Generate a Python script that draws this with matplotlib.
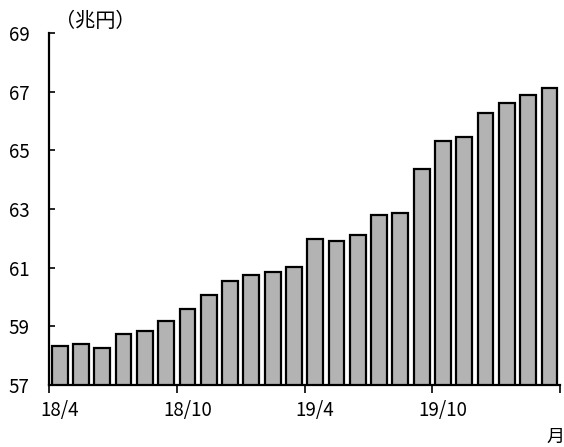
import matplotlib
matplotlib.use("Agg")
import matplotlib.pyplot as plt
import numpy as np

plt.rcParams['font.family'] = ['Noto Sans CJK JP', 'DejaVu Sans']

# 月末残高（兆円）, 2018年4月～2020年3月
months = ['18/4', '18/5', '18/6', '18/7', '18/8', '18/9', '18/10', '18/11', '18/12',
          '19/1', '19/2', '19/3', '19/4', '19/5', '19/6', '19/7', '19/8', '19/9',
          '19/10', '19/11', '19/12', '20/1', '20/2', '20/3']
values = [58.31, 58.39, 58.25, 58.73, 58.85, 59.19, 59.60, 60.08, 60.55,
          60.75, 60.85, 61.03, 61.98, 61.91, 62.11, 62.80, 62.86, 64.36,
          65.32, 65.45, 66.27, 66.60, 66.89, 67.14]
shown_labels = ['18/4', '18/10', '19/4', '19/10']
y_ticks = [57, 59, 61, 63, 65, 67, 69]

fig = plt.figure(figsize=(5.64, 4.47), dpi=100)
ax = fig.add_axes([0.087, 0.139, 0.906, 0.787])

x = np.arange(len(months))
ax.bar(x, values, width=0.74, color='#b3b3b3', edgecolor='black', linewidth=1.6)

ax.set_xlim(-0.5, len(months) - 0.5)
ax.set_ylim(57, 69)
ax.set_yticks(y_ticks)
ax.tick_params(axis='y', direction='in', length=4, width=1.2, labelsize=13.5, pad=14)

# 半年ごとの区切り目盛りと、その月のラベル
ax.set_xticks(np.arange(-0.5, len(months), 6))
ax.set_xticklabels([])
ax.tick_params(axis='x', which='major', direction='out', length=6, width=1.2)
ax.set_xticks([months.index(m) for m in shown_labels], minor=True)
ax.set_xticklabels(shown_labels, minor=True)
ax.tick_params(axis='x', which='minor', length=0, labelsize=13.5, pad=11)

for s in ['top', 'right']:
    ax.spines[s].set_visible(False)
for s in ['left', 'bottom']:
    ax.spines[s].set_linewidth(1.6)

fig.text(0.098, 0.951, '（兆円）', fontsize=14.5, ha='left', va='center')
fig.text(0.984, 0.022, '月', fontsize=13, ha='center', va='center')

fig.savefig('out.png', dpi=100)
